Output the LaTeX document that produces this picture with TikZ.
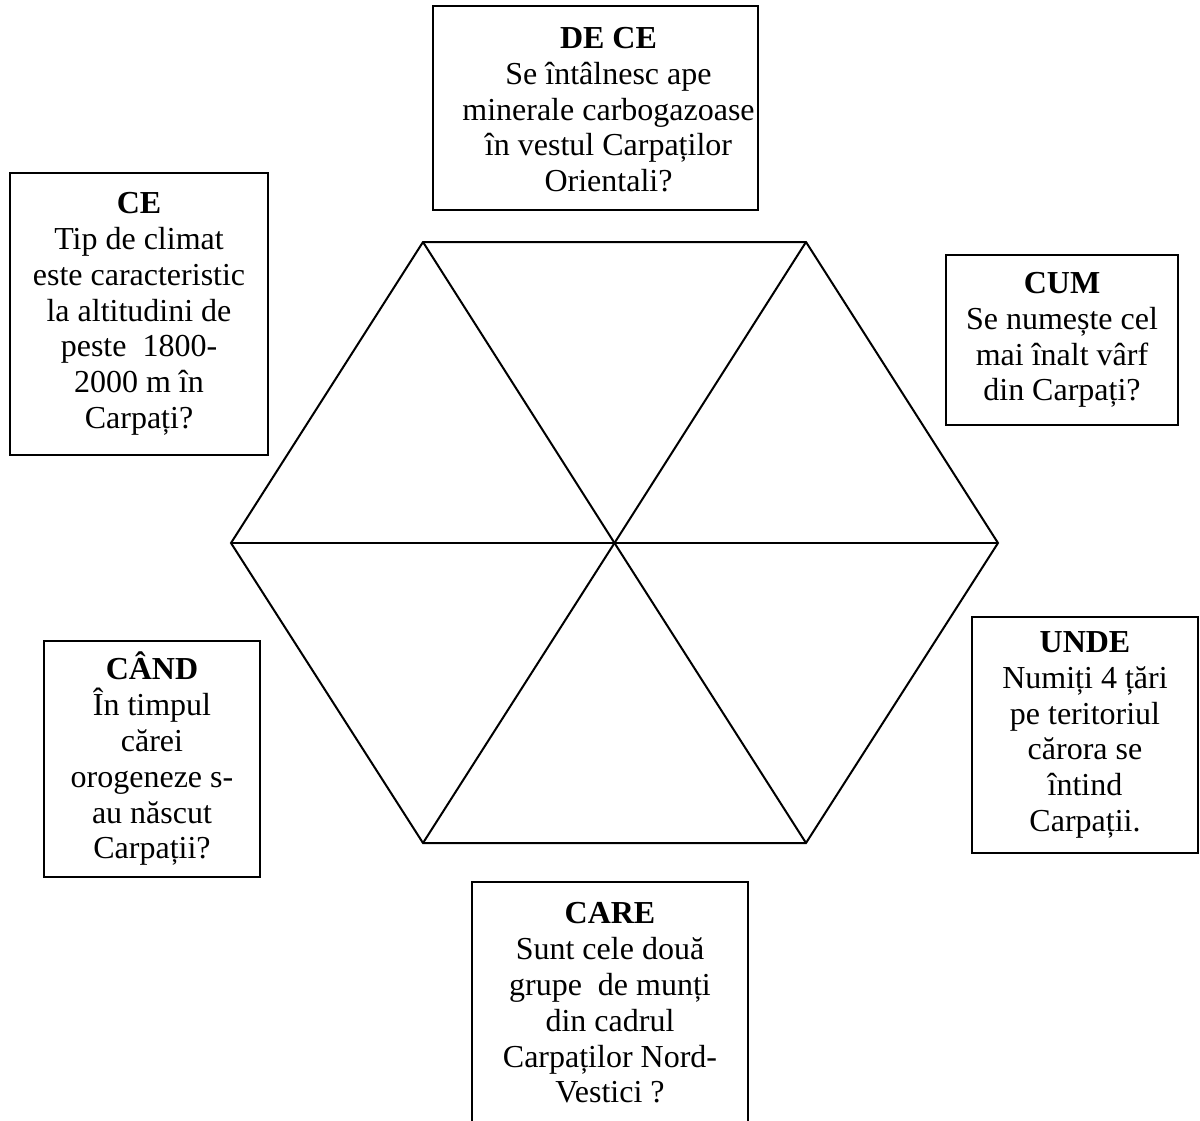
\documentclass[tikz,border=0pt]{standalone}
\usepackage{fontspec}
\setmainfont{Liberation Serif}

\begin{document}
\begin{tikzpicture}[x=0.5pt, y=-0.5pt]
  \tikzstyle{question}=[draw=black, line width=0.75pt, inner sep=0pt, align=center,
    font=\fontsize{16}{17.9}\selectfont]
  \tikzstyle{hexline}=[draw=black, line width=1pt, line join=miter]
  \useasboundingbox (0,0) rectangle (1200,1120);

  % Define the hexagon corners
  \coordinate (c)  at (614.5,543);
  \coordinate (h1) at (423,242);
  \coordinate (h2) at (806,242);
  \coordinate (h3) at (998,543);
  \coordinate (h4) at (806,843);
  \coordinate (h5) at (423,843);
  \coordinate (h6) at (231,543);

  % Draw the hexagon and its diagonals
  \draw[hexline] (h1) -- (h2) -- (h3) -- (h4) -- (h5) -- (h6) -- cycle;
  \draw[hexline] (h1) -- (c) -- (h4);
  \draw[hexline] (h2) -- (c) -- (h5);
  \draw[hexline] (h6) -- (c) -- (h3);

  % Define the questions
  \node[question, minimum width=162.5pt, minimum height=102pt] (dece) at (595.5,108)
    {\hspace*{13pt}\raisebox{-2.5pt}[\height][\depth]{\begin{tabular}{@{}c@{}}\textbf{DE CE}\\Se întâlnesc ape\\minerale carbogazoase\\în vestul Carpaților\\Orientali?\end{tabular}}};
  \node[question, minimum width=129pt, minimum height=141pt] (ce) at (139,314)
    {\textbf{CE}\\Tip de climat\\este caracteristic\\la altitudini de\\peste\ \ 1800-\\2000 m în\\Carpați?};
  \node[question, minimum width=116pt, minimum height=85pt] (cum) at (1062,340)
    {\textbf{CUM}\\Se numește cel\\mai înalt vârf\\din Carpați?};
  \node[question, minimum width=113pt, minimum height=118pt] (unde) at (1085,735)
    {\textbf{UNDE}\\Numiți 4 țări\\pe teritoriul\\cărora se\\întind\\Carpații.};
  \node[question, minimum width=108pt, minimum height=118pt] (cand) at (152,759)
    {\textbf{CÂND}\\În timpul\\cărei\\orogeneze s-\\au născut\\Carpații?};
  \node[question, minimum width=138pt, minimum height=121pt] (care) at (610,1003)
    {\textbf{CARE}\\Sunt cele două\\grupe\ \ de munți\\din cadrul\\Carpaților Nord-\\Vestici ?};

\end{tikzpicture}
\end{document}
